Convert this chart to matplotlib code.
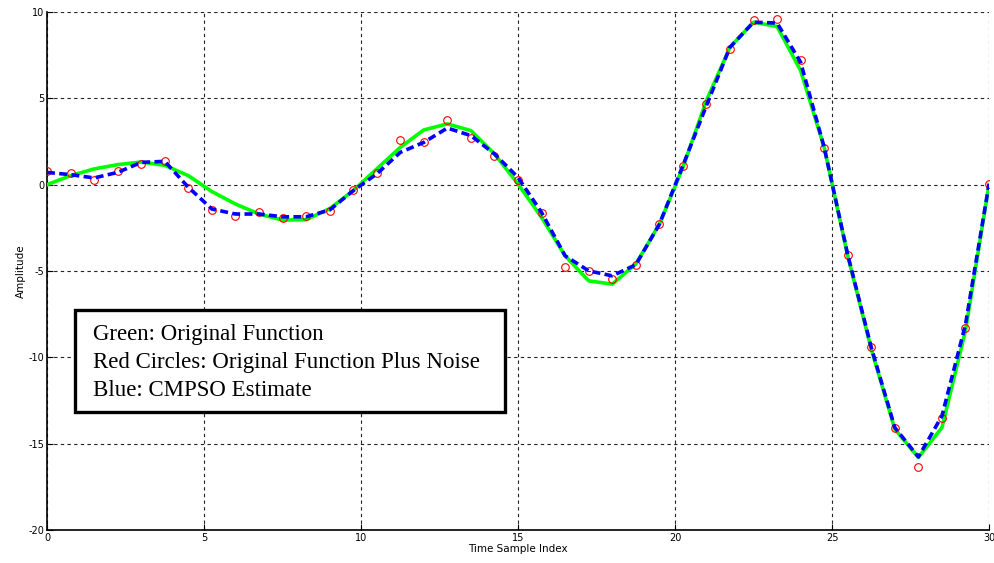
import matplotlib
matplotlib.use("Agg")
import matplotlib.pyplot as plt
from matplotlib.patches import Rectangle

plt.rcParams["axes.unicode_minus"] = False

# sample index (0.75 spacing)
t = [i * 0.75 for i in range(41)]

original = [0.0, 0.52, 0.91, 1.16, 1.31, 1.12, 0.52, -0.4, -1.12, -1.7,
            -2.05, -2.03, -1.39, -0.35, 0.91, 2.16, 3.17, 3.52, 3.13, 1.78,
            0.04, -1.9, -4.12, -5.57, -5.76, -4.6, -2.3, 1.0, 4.87, 7.96,
            9.41, 9.16, 6.61, 2.16, -4.12, -9.52, -14.16, -15.8, -14.07, -8.46,
            0.0]

noisy = [0.81, 0.65, 0.27, 0.81, 1.2, 1.39, -0.19, -1.45, -1.84, -1.57,
         -1.95, -1.84, -1.55, -0.31, 0.66, 2.61, 2.45, 3.77, 2.69, 1.68,
         0.27, -1.66, -4.79, -4.99, -5.47, -4.64, -2.26, 1.1, 4.68, 7.87,
         9.51, 9.57, 7.23, 2.11, -4.06, -9.43, -14.07, -16.35, -13.53, -8.31,
         0.04]

estimate = [0.71, 0.58, 0.39, 0.71, 1.29, 1.35, -0.15, -1.41, -1.7, -1.7,
            -1.86, -1.86, -1.47, -0.35, 0.62, 1.87, 2.45, 3.28, 2.84, 1.78,
            0.42, -1.61, -4.12, -4.99, -5.28, -4.64, -2.3, 1.1, 4.58, 7.96,
            9.41, 9.36, 7.09, 2.16, -4.06, -9.43, -14.07, -15.77, -13.4, -8.1,
            0.04]

box_lines = ["Green: Original Function",
             "Red Circles: Original Function Plus Noise",
             "Blue: CMPSO Estimate"]

fig = plt.figure(figsize=(9.94, 5.63), dpi=100)
ax = fig.add_axes([0.0473, 0.0586, 0.9477, 0.9201])

ax.plot(t, original, color="#00ff00", lw=2.6, zorder=3)
ax.plot(t, noisy, "o", mfc="none", mec="red", ms=5.5, mew=0.8, zorder=4)
ax.plot(t, estimate, color="#0000ff", lw=2.6, ls=(0, (2.2, 1.2)), zorder=5)

ax.set_xlim(0, 30)
ax.set_ylim(-20, 10)
ax.set_xticks(range(0, 31, 5))
ax.set_yticks(range(-20, 11, 5))
ax.grid(True, color="#222222", ls=(0, (3, 3)), lw=0.8)
ax.set_axisbelow(True)
for s in ["top", "right"]:
    ax.spines[s].set_visible(False)
ax.spines["left"].set_linewidth(1.2)
ax.spines["bottom"].set_linewidth(1.2)
ax.tick_params(direction="in", length=4, labelsize=7, pad=2)
for lab in ax.get_xticklabels() + ax.get_yticklabels():
    lab.set_family("Liberation Sans Narrow")
ax.set_xlabel("Time Sample Index", fontsize=7.5, labelpad=1,
              family="Liberation Sans Narrow")
ax.set_ylabel("Amplitude", fontsize=7.5, labelpad=2,
              family="Liberation Sans Narrow")

# annotation box
ax.add_patch(Rectangle((0.0297, 0.228), 0.456, 0.197, transform=ax.transAxes,
                       facecolor="white", edgecolor="black", lw=2.4, zorder=6))
for i, line in enumerate(box_lines):
    ax.text(0.049, 0.378 - i * 0.054, line, transform=ax.transAxes,
            fontsize=16.5, family="Liberation Serif", va="center", zorder=7)

fig.savefig("out.png", dpi=100)
